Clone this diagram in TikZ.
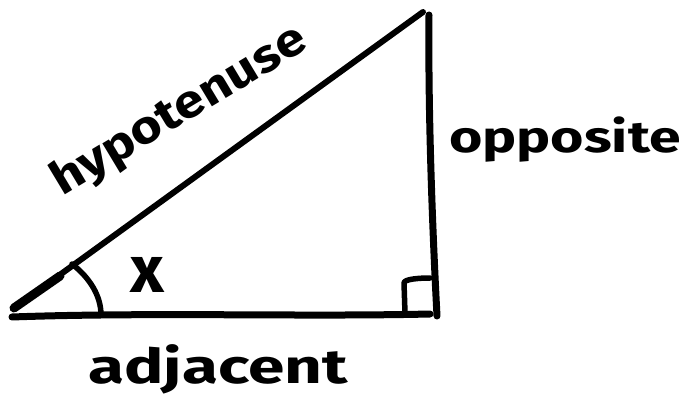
\documentclass[tikz,border=0pt]{standalone}
\usepackage{fontspec}
\setmainfont{Fira Sans}
\usepackage{graphicx}
\begin{document}
\begin{tikzpicture}[x=1pt,y=-1pt,
  pen/.style={line width=7pt,line cap=round,line join=round,draw=black},
  thinpen/.style={line width=5.5pt,line cap=round,line join=round,draw=black},
  lbl/.style={inner sep=0pt,anchor=base,font=\bfseries}]
\useasboundingbox (0,0) rectangle (681,417);
% vertices
\coordinate (L) at (12,317);
\coordinate (LH) at (14,308);
\coordinate (R) at (437,316);
\coordinate (Rb) at (430,314);
\coordinate (T) at (429,15);
\coordinate (TH) at (423,12);
% sides
\draw[pen] (L) .. controls (150,312) and (300,317) .. (Rb);
\draw[pen] (T) .. controls (428,120) and (433,240) .. (R);
\draw[line width=6pt,line cap=round] (LH) -- (TH);
\draw[line width=9pt,line cap=round] (LH) -- (60,276);
% right angle mark
\coordinate (S1) at (405,313);
\coordinate (S2) at (404,283);
\coordinate (S3) at (430,278);
\draw[thinpen] (S1) -- (S2) .. controls (404,279) and (420,278) .. (S3);
% angle arc
\coordinate (A1) at (72,264);
\coordinate (A2) at (101,315);
\draw[thinpen] (A1) .. controls (90,278) and (101,296) .. (A2);
% labels
\node[lbl,font=\fontsize{66}{66}\selectfont\bfseries] (xlab) at (147,292) {x};
\node[lbl,rotate=31] (hyp) at (186,122) {\fontsize{46}{46}\selectfont\bfseries\scalebox{1.17}[1]{hypotenuse}};
\node[lbl] (opp) at (565,153) {\fontsize{44}{44}\selectfont\bfseries\scalebox{1.30}[1]{opposite}};
\node[lbl] (adj) at (218,383) {\fontsize{48}{48}\selectfont\bfseries\scalebox{1.37}[1]{adjacent}};
\end{tikzpicture}
\end{document}
